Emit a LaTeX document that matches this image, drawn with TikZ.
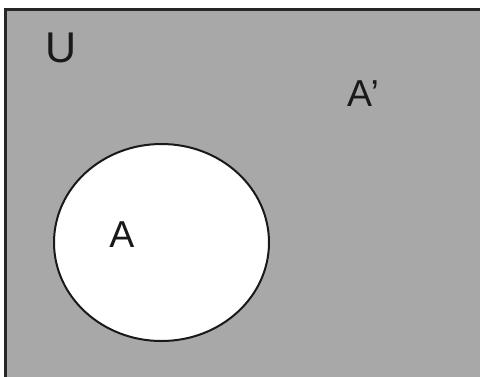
\documentclass[tikz,border=0pt]{standalone}
\usepackage{fontspec}
\setmainfont{Liberation Sans}
\usetikzlibrary{shapes.geometric}
\definecolor{bggray}{RGB}{168,168,168}
\begin{document}
\begin{tikzpicture}[x=1pt,y=-1pt,
  lbl/.style={inner sep=0pt, text=black!90, font=\fontsize{37.5}{37.5}\selectfont}]
\useasboundingbox (0,0) rectangle (480,376);
\fill[white] (0,0) rectangle (480,376);
\fill[bggray] (5.5,9.5) rectangle (482,380);
\draw[line width=3pt, black!85] (5.5,380) -- (5.5,9.5) -- (482,9.5);
\node[ellipse, draw=black!90, fill=white, line width=2pt, minimum width=215pt, minimum height=197pt, inner sep=0pt] (A) at (161.5,242.5) {};
\node[lbl, anchor=base, font=\fontsize{43}{43}\selectfont] (U) at (61,62) {U};
\node[lbl, anchor=base] (Alab) at (122,247) {A};
\node[lbl, anchor=base west] (Ac) at (347,106) {A\kern-1.5pt’};
\end{tikzpicture}
\end{document}
